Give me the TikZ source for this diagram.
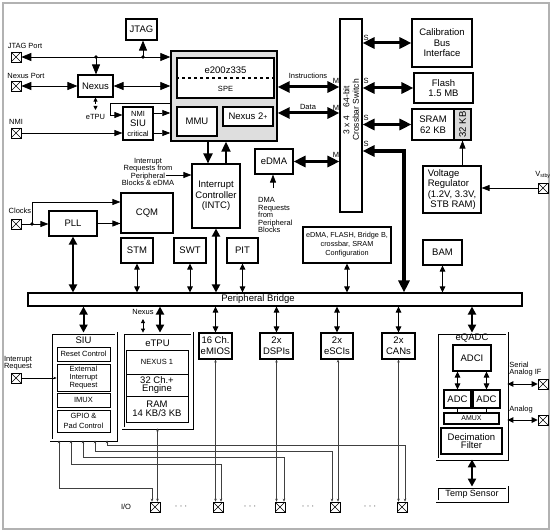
\documentclass[tikz,border=0pt]{standalone}
\usepackage{fontspec}
\setmainfont{Liberation Sans}
\usetikzlibrary{arrows.meta}

\tikzset{
  mainf/.style={font=\fontsize{9.5}{10.5}\selectfont},
  smallf/.style={font=\fontsize{7.5}{8}\selectfont},
  blk/.style={draw, line width=1.1pt, fill=white, inner sep=0pt, align=center, mainf},
  sblk/.style={blk, smallf},
  dbl/.style={draw, double=white, double distance=1.4pt, line width=0.8pt, fill=white, inner sep=0pt, align=center, mainf},
  lbl/.style={inner sep=0pt, align=center, font=\fontsize{7.5}{7.5}\selectfont},
  port/.style={draw, line width=0.6pt, fill=white, minimum size=10pt, inner sep=0pt,
    path picture={\draw[line width=0.5pt] (path picture bounding box.north west) -- (path picture bounding box.south east)
      (path picture bounding box.north east) -- (path picture bounding box.south west);}},
  wide/.style={line width=3pt, {Triangle[length=12pt,width=11pt]}-{Triangle[length=12pt,width=11pt]}},
  bus/.style={line width=2pt, {Triangle[length=8pt,width=8pt]}-{Triangle[length=8pt,width=8pt]}},
  link/.style={line width=1pt, {Triangle[length=6pt,width=5.5pt]}-{Triangle[length=6pt,width=5.5pt]}},
  wire/.style={line width=0.8pt, {Triangle[length=10pt,width=8pt]}-{Triangle[length=10pt,width=8pt]}},
  wireto/.style={line width=0.8pt, -{Triangle[length=10pt,width=8pt]}},
  sig/.style={line width=0.7pt, -{Triangle[length=8pt,width=6pt]}},
  down/.style={line width=2pt, -{Triangle[length=10pt,width=9pt]}},
  pin/.style={line width=0.6pt, draw=black!75, {Stealth[length=3pt,width=2.5pt]}-{Stealth[length=3pt,width=2.5pt]}},
  tick/.style={line width=0.8pt, {Triangle[length=4pt,width=4pt]}-{Triangle[length=4pt,width=4pt]}},
}

\begin{document}
\begin{tikzpicture}[x=1pt,y=-1pt]
\useasboundingbox (0,0) rectangle (554,532);
\draw[gray!60, line width=1.5pt] (3,3) rectangle (549,529);

% core and debug
\path (141.5,29.5) node[blk, minimum width=31pt, minimum height=21pt] (jtag) {JTAG};
\path (224,96) node[draw, line width=1.4pt, fill=black!13, minimum width=106pt, minimum height=90pt] (core) {};
\path (225.5,78) node[blk, minimum width=97pt, minimum height=40pt] (cpu) {};
\draw[dashed, line width=1.2pt] (cpu.west) -- (cpu.east);
\path (225.5,70) node[mainf] {e200z335};
\path (225.5,89) node[lbl] {SPE};
\path (197,121.5) node[blk, minimum width=40pt, minimum height=29pt] (mmu) {MMU};
\path (248,116.5) node[blk, minimum width=50pt, minimum height=19pt] (nxtwo) {Nexus 2{\fontsize{7}{7}\selectfont+}};
\path (95.5,86) node[blk, minimum width=35pt, minimum height=22pt] (nexus) {Nexus};
\path (138,123.5) node[sblk, font=\fontsize{7.5}{10}\selectfont, minimum width=30pt, minimum height=33pt] (nmi) {NMI\\{\fontsize{9.5}{10}\selectfont SIU}\\critical};

% crossbar and slaves
\path (351,115.5) node[draw, line width=1.1pt, fill=white, minimum width=22pt, minimum height=193pt] (xbar) {};
\path (351,110) node[rotate=90, align=center, font=\fontsize{8.5}{9.5}\selectfont] {3 x 4\quad 64-bit\\Crossbar Switch};
\path (442,43) node[blk, minimum width=60pt, minimum height=48pt] (calib) {Calibration\\Bus\\Interface};
\path (443.5,88) node[blk, minimum width=59pt, minimum height=30pt] (flash) {Flash\\1.5 MB};
\path (433,124.5) node[blk, minimum width=42pt, minimum height=31pt] (sram) {SRAM\\62 KB};
\path (462.5,124.5) node[blk, fill=black!15, rotate=90, minimum width=31pt, minimum height=17pt] (kb) {32 KB};
\path (452,189.5) node[blk, align=left, minimum width=58pt, minimum height=47pt] (vreg) {Voltage\\Regulator\\(1.2V, 3.3V,\\\ STB RAM)};
\path (274,161.5) node[blk, minimum width=38pt, minimum height=25pt] (edma) {eDMA};
\path (216,196) node[blk, minimum width=48pt, minimum height=64pt] (intc) {Interrupt\\Controller\\(INTC)};

% clocks and timers
\path (73,223.5) node[blk, minimum width=48pt, minimum height=25pt] (pll) {PLL};
\path (147,213) node[blk, minimum width=52pt, minimum height=40pt] (cqm) {CQM};
\path (137,250.5) node[blk, minimum width=32pt, minimum height=25pt] (stm) {STM};
\path (190,250.5) node[blk, minimum width=32pt, minimum height=25pt] (swt) {SWT};
\path (242.5,250.5) node[blk, minimum width=31pt, minimum height=25pt] (pit) {PIT};
\path (347,245) node[blk, font=\fontsize{7.3}{9}\selectfont, minimum width=88pt, minimum height=36pt] (config) {eDMA, FLASH, Bridge B,\\crossbar, SRAM\\Configuration};
\path (442.5,252.5) node[blk, minimum width=39pt, minimum height=25pt] (bam) {BAM};
\path (275,299.5) node[draw, line width=1.1pt, fill=white, minimum width=494pt, minimum height=13pt] (bridge) {};
\path (258,299.5) node[mainf] {Peripheral Bridge};

% peripherals
\path (83.5,386.5) node[dbl, minimum width=65pt, minimum height=107pt] (siu) {};
\path (83.5,340) node[mainf] {SIU};
\path (83.5,354) node[sblk, line width=0.9pt, minimum width=53pt, minimum height=14pt] (reset) {Reset Control};
\path (83.5,377.5) node[sblk, line width=0.9pt, minimum width=53pt, minimum height=27pt] (extint) {External\\Interrupt\\Request};
\path (83.5,400) node[sblk, line width=0.9pt, minimum width=53pt, minimum height=14pt] (imux) {IMUX};
\path (83.5,421) node[sblk, line width=0.9pt, font=\fontsize{7.5}{10}\selectfont, minimum width=53pt, minimum height=22pt] (gpio) {GPIO \&\\Pad Control};

\path (157.5,380.5) node[dbl, minimum width=69pt, minimum height=95pt] (etpu) {};
\path (157.5,343) node[mainf] {eTPU};
\path (157,362) node[sblk, line width=0.9pt, minimum width=62pt, minimum height=24pt] (nxone) {NEXUS 1};
\path (157,385) node[blk, line width=0.9pt, font=\fontsize{9.5}{8}\selectfont, minimum width=62pt, minimum height=22pt] (engine) {32 Ch.+\\Engine};
\path (157,409) node[blk, line width=0.9pt, font=\fontsize{9.5}{9}\selectfont, minimum width=62pt, minimum height=26pt] (ram) {RAM\\14 KB/3 KB};

\path (215.5,346) node[blk, font=\fontsize{9.5}{11}\selectfont, minimum width=33pt, minimum height=26pt] (emios) {16 Ch.\\eMIOS};
\path (276.5,346) node[blk, font=\fontsize{9.5}{11}\selectfont, minimum width=33pt, minimum height=26pt] (dspi) {2x\\DSPIs};
\path (337,346) node[blk, font=\fontsize{9.5}{11}\selectfont, minimum width=32pt, minimum height=26pt] (esci) {2x\\eSCIs};
\path (398.5,346) node[blk, font=\fontsize{9.5}{11}\selectfont, minimum width=33pt, minimum height=26pt] (can) {2x\\CANs};

\path (472,396) node[dbl, minimum width=70pt, minimum height=126pt] (eqadc) {};
\path (472,338) node[mainf] {eQADC};
\path (472,358) node[blk, minimum width=38pt, minimum height=26pt] (adci) {ADCI};
\path (457.5,399) node[blk, minimum width=27pt, minimum height=18pt] (adca) {ADC};
\path (486.5,399) node[blk, minimum width=27pt, minimum height=18pt] (adcb) {ADC};
\path (471.5,418.5) node[blk, font=\fontsize{7}{7}\selectfont, minimum width=55pt, minimum height=11pt] (amux) {AMUX};
\path (471.5,441) node[blk, font=\fontsize{9.5}{8}\selectfont, minimum width=61pt, minimum height=26pt] (decim) {Decimation\\Filter};
\path (472,494) node[dbl, font=\fontsize{9}{9}\selectfont, minimum width=70pt, minimum height=14pt] (temp) {Temp Sensor};

% ports
\path (16,57) node[port] (jtagport) {};
\path (16,86) node[port] (nexport) {};
\path (16,133) node[port] (nmiport) {};
\path (16,224) node[port] (clkport) {};
\path (16,378) node[port] (intport) {};
\path (543,188) node[port] (vport) {};
\path (543,384) node[port] (sport) {};
\path (543,420) node[port] (aport) {};
\path (155,507) node[port] (io1) {};
\path (218,507) node[port] (io2) {};
\path (280,507) node[port] (io3) {};
\path (335,507) node[port] (io4) {};
\path (402,507) node[port] (io5) {};

% labels
\path (25,46) node[lbl] {JTAG Port};
\path (26,76) node[lbl] {Nexus Port};
\path (16,122) node[lbl] {NMI};
\path (20,211) node[lbl] {Clocks};
\path (18,363) node[lbl] {Interrupt\\Request};
\path (543,175) node[lbl] {V\textsubscript{stby}};
\path (525.5,369) node[lbl, align=left] {Serial\\Analog IF};
\path (521,410) node[lbl] {Analog};
\path (126,507) node[lbl] {I/O};
\foreach \x in {181,250,308,370} \path (\x,507) node[lbl] {·\,\,·\,\,·};
\path (308,76) node[lbl] {Instructions};
\path (308,107) node[lbl] {Data};
\foreach \y in {81,108,155} \path (336,\y) node[lbl] {M};
\foreach \y in {38,81,118,144} \path (366,\y) node[lbl] {S};
\path (148,172) node[lbl] {Interrupt\\Requests from\\Peripheral\\Blocks \& eDMA};
\path (258,215) node[lbl, align=left, anchor=west] {DMA\\Requests\\from\\Peripheral\\Blocks};
\path (143,312) node[lbl] {Nexus};
\path (95.5,117) node[lbl] {eTPU};

% debug connections
\path (96,57) coordinate (jt1) (143,57) coordinate (jt2) (95.5,110) coordinate (etpuin);
\draw[wire] (jtagport) -- (jtagport -| core.west);
\fill (jt1) circle (1.8pt) (jt2) circle (1.8pt);
\draw[wireto] (jt1) -- (jt1 |- nexus.north);
\draw[wireto] (jt2) -- (jt2 |- jtag.south);
\draw[wire] (nexport) -- (nexus);
\draw[wire] (nexus) -- (nexus -| core.west);
\draw[tick, densely dashed] (nexus) -- (etpuin);

% nmi
\path (110,103) coordinate (nb1) (110,115) coordinate (nb2) (160,113) coordinate (na) (160,133) coordinate (nc);
\draw[sig] (nmiport) -- (nmiport -| nmi.west);
\draw[sig] (nb1 -| core.west) -- (nb1) -- (nb2) -- (nb2 -| nmi.west);
\draw[sig] (na -| nmi.east) -- (na -| core.west);
\draw[sig] (nc -| nmi.east) -- (nc -| core.west);

% crossbar
\path (300,87) coordinate (ins) (300,113) coordinate (dat) (404,151) coordinate (xb4);
\draw[wide] (ins -| core.east) -- (ins -| xbar.west);
\draw[wide] (dat -| core.east) -- (dat -| xbar.west);
\draw[wide] (edma) -- (edma -| xbar.west);
\draw[wide] (xbar.east |- calib) -- (calib);
\draw[wide] (xbar.east |- flash) -- (flash);
\draw[wide] (xbar.east |- sram) -- (sram);
\draw[wide, line width=3.5pt] (xb4 -| xbar.east) -- (xb4) -- (xb4 |- bridge.north);
\draw[sig] (vreg.north -| kb) -- (sram.south -| kb);
\draw[sig] (vport) -- (vport -| vreg.east);

% interrupts and dma
\path (208,150) coordinate (cd) (226,150) coordinate (cu) (166,175) coordinate (irq) (273,188) coordinate (dmarq);
\draw[down] (cd |- core.south) -- (cd |- intc.north);
\draw[down] (cu |- intc.north) -- (cu |- core.south);
\draw[sig] (irq) -- (irq -| intc.west);
\draw[sig] (dmarq) -- (dmarq |- edma.south);

% clocks
\path (32,224) coordinate (clk) (32,202) coordinate (clkup);
\draw[line width=0.7pt] (clkport) -- (clk);
\fill (clk) circle (1.8pt);
\draw[sig] (clk) -- (clk -| pll.west);
\draw[sig] (clk) -- (clkup) -- (clkup -| cqm.west);
\draw[sig] (pll) -- (pll -| cqm.west);

% bridge
\draw[bus] (pll) -- (pll |- bridge.north);
\draw[link] (stm) -- (stm |- bridge.north);
\draw[link] (swt) -- (swt |- bridge.north);
\draw[bus] (intc) -- (intc |- bridge.north);
\draw[link] (pit) -- (pit |- bridge.north);
\draw[link] (config) -- (config |- bridge.north);
\draw[link] (bam) -- (bam |- bridge.north);

\path (160,320) coordinate (etb) (143,319) coordinate (nxb);
\draw[bus] (siu |- bridge.south) -- (siu);
\draw[bus] (etb |- bridge.south) -- (etb |- etpu.north);
\draw[tick] (nxb) -- (nxb |- etpu.north);
\draw[link] (emios |- bridge.south) -- (emios);
\draw[link] (dspi |- bridge.south) -- (dspi);
\draw[link] (esci |- bridge.south) -- (esci);
\draw[link] (can |- bridge.south) -- (can);
\draw[bus] (eqadc |- bridge.south) -- (eqadc);

% eqadc
\draw[link] (adci.south -| adca) -- (adca);
\draw[link] (adci.south -| adcb) -- (adcb);
\draw[line width=0.8pt] (adca.south) -- (adca.south |- amux.north);
\draw[line width=0.8pt] (adcb.south) -- (adcb.south |- amux.north);
\draw[bus] (eqadc) -- (temp);
\draw[link] (eqadc.east |- sport) -- (sport);
\draw[link] (eqadc.east |- aport) -- (aport);
\draw[line width=0.7pt, -{Stealth[length=3pt,width=2.5pt]}] (intport) -- (intport -| extint.west);

% i/o pins
\path (59,488) coordinate (g1) (152,488) coordinate (h1)
      (71,464) coordinate (g2) (221,464) coordinate (h2)
      (83,457) coordinate (g3) (284,457) coordinate (h3)
      (95,451) coordinate (g4) (332,451) coordinate (h4)
      (107,445) coordinate (g5) (405,445) coordinate (h5);
\draw[pin] (etpu.south) -- (etpu.south |- io1.north);
\draw[pin] (emios.south) -- (emios.south |- io2.north);
\draw[pin] (dspi.south) -- (dspi.south |- io3.north);
\draw[pin] ([xshift=1pt]esci.south) -- ([xshift=1pt]esci.south |- io4.north);
\draw[pin] (can.south) -- (can.south |- io5.north);
\draw[pin] (g1 |- siu.south) -- (g1) -- (h1) -- (h1 |- io1.north);
\draw[pin] (g2 |- siu.south) -- (g2) -- (h2) -- (h2 |- io2.north);
\draw[pin] (g3 |- siu.south) -- (g3) -- (h3) -- (h3 |- io3.north);
\draw[pin] (g4 |- siu.south) -- (g4) -- (h4) -- (h4 |- io4.north);
\draw[pin] (g5 |- siu.south) -- (g5) -- (h5) -- (h5 |- io5.north);
\end{tikzpicture}
\end{document}
